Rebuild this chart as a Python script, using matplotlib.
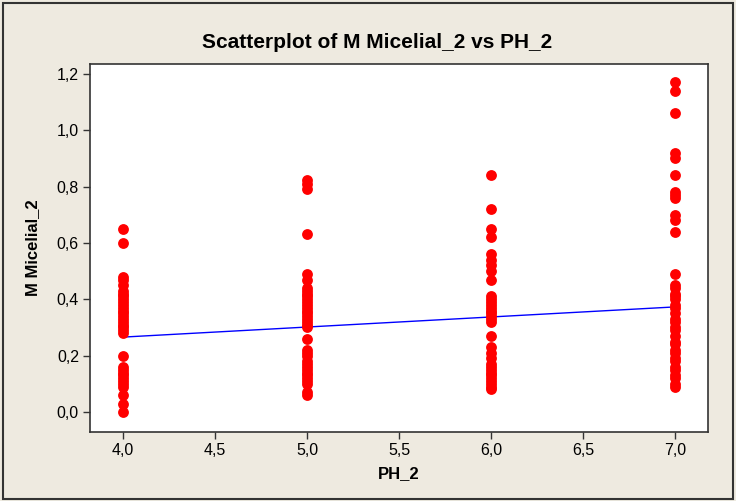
import matplotlib
matplotlib.use("Agg")
import matplotlib.pyplot as plt
from matplotlib.patches import Rectangle
import numpy as np

# pH levels and measured mycelial mass at each level
ph_levels = [4.0, 5.0, 6.0, 7.0]
mass_ph4 = [0.65, 0.60, 0.48, 0.47, 0.45, 0.43, 0.42, 0.41, 0.40, 0.39, 0.38,
            0.37, 0.36, 0.35, 0.34, 0.33, 0.32, 0.31, 0.30, 0.29, 0.28, 0.20,
            0.16, 0.15, 0.14, 0.13, 0.12, 0.11, 0.10, 0.09, 0.06, 0.03, 0.00]
mass_ph5 = [0.825, 0.81, 0.79, 0.63, 0.49, 0.47, 0.44, 0.43, 0.42, 0.41, 0.40,
            0.39, 0.38, 0.37, 0.36, 0.35, 0.34, 0.33, 0.32, 0.31, 0.30, 0.26,
            0.22, 0.21, 0.20, 0.18, 0.17, 0.16, 0.15, 0.14, 0.13, 0.12, 0.11,
            0.10, 0.07, 0.06]
mass_ph6 = [0.84, 0.72, 0.65, 0.62, 0.56, 0.54, 0.52, 0.50, 0.47, 0.41, 0.40,
            0.39, 0.38, 0.37, 0.36, 0.35, 0.34, 0.33, 0.32, 0.27, 0.23, 0.21,
            0.19, 0.17, 0.16, 0.15, 0.14, 0.13, 0.12, 0.11, 0.10, 0.09, 0.08]
mass_ph7 = [1.17, 1.14, 1.06, 0.92, 0.90, 0.84, 0.78, 0.77, 0.76, 0.70, 0.68,
            0.64, 0.49, 0.45, 0.44, 0.42, 0.41, 0.40, 0.38, 0.37, 0.35, 0.33,
            0.32, 0.30, 0.29, 0.27, 0.25, 0.24, 0.22, 0.21, 0.19, 0.18, 0.16,
            0.15, 0.13, 0.12, 0.10, 0.09]

# fitted regression line: M Micelial_2 = intercept + slope * PH_2
fit_intercept = 0.123
fit_slope = 0.0357

x_ticks = [4.0, 4.5, 5.0, 5.5, 6.0, 6.5, 7.0]
y_ticks = [0.0, 0.2, 0.4, 0.6, 0.8, 1.0, 1.2]

bg = "#EEEAE0"
plt.rcParams["font.family"] = ["Liberation Sans", "DejaVu Sans"]

fig = plt.figure(figsize=(7.36, 5.01), dpi=100, facecolor=bg)
ax = fig.add_axes([90 / 736, 1 - 432 / 501, 618 / 736, 368 / 501])
ax.set_facecolor("white")

groups = [mass_ph4, mass_ph5, mass_ph6, mass_ph7]
for ph, vals in zip(ph_levels, groups):
    ax.plot([ph] * len(vals), vals, linestyle="none", marker="o",
            markersize=7.8, color="#FF0000", markeredgewidth=0, zorder=3)

fit_x = np.array([ph_levels[0], ph_levels[-1]])
ax.plot(fit_x, fit_intercept + fit_slope * fit_x, color="#0000FF", lw=1.0, zorder=2)

ax.set_xlim(3.82, 7.18)
ax.set_ylim(-0.071, 1.235)
ax.set_xticks(x_ticks)
ax.set_yticks(y_ticks)
ax.set_xticklabels([f"{v:.1f}".replace(".", ",") for v in x_ticks])
ax.set_yticklabels([f"{v:.1f}".replace(".", ",") for v in y_ticks])
ax.tick_params(direction="out", length=5, width=1, labelsize=11.5, color="#333333",
               pad=3)
for s in ax.spines.values():
    s.set_color("#333333")
    s.set_linewidth(1.2)

ax.set_xlabel("PH_2", fontsize=12, fontweight="bold", labelpad=6)
ax.set_ylabel("M Micelial_2", fontsize=12, fontweight="bold", labelpad=12)
fig.text(377 / 736, 1 - 42 / 501, "Scatterplot of M Micelial_2 vs PH_2",
         ha="center", va="center", fontsize=15, fontweight="bold")

# outer frame around the whole graph
fig.patches.append(Rectangle((0.004, 0.004), 0.992, 0.99, transform=fig.transFigure,
                             fill=False, edgecolor="#333333", lw=1.5))

fig.savefig("out.png", dpi=100, facecolor=bg)
